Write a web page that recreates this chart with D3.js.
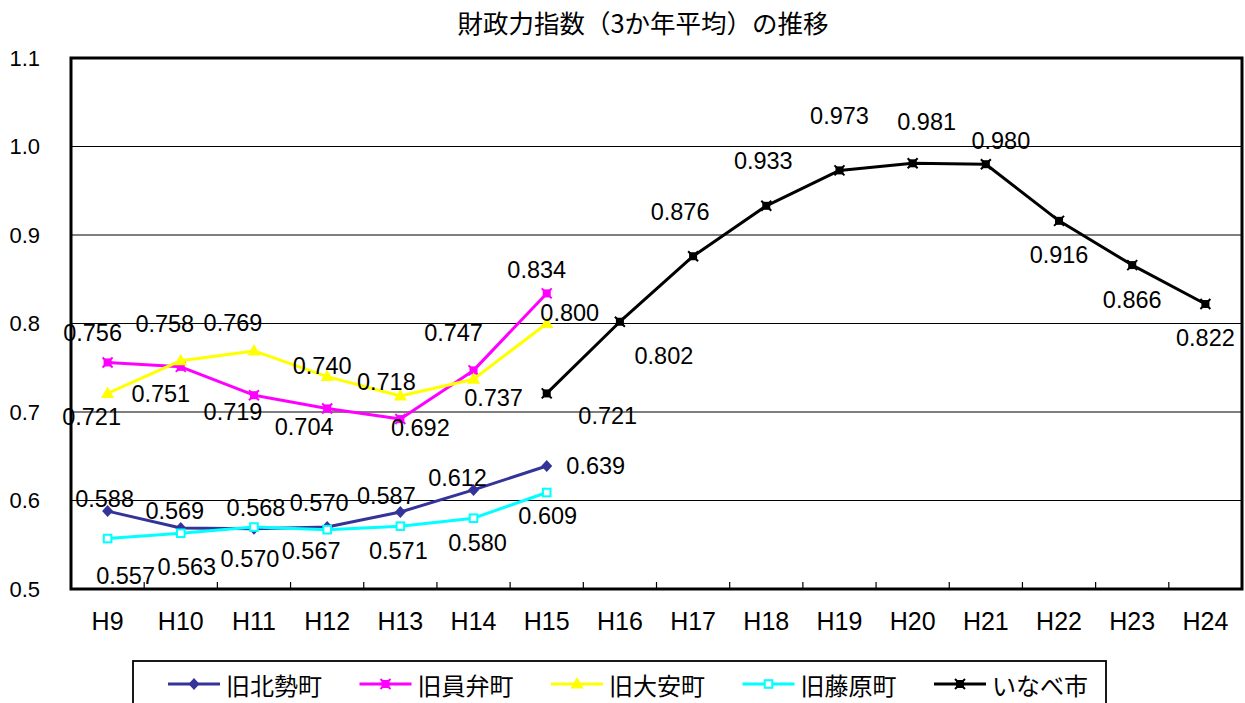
<!DOCTYPE html>
<html>
<head>
<meta charset="utf-8">
<script src="https://cdn.jsdelivr.net/npm/d3@7"></script>
<style>
  body { margin: 0; background: #fff; }
  svg text { fill: #000; }
</style>
</head>
<body>
<svg id="chart" width="1245" height="703"></svg>
<script>
// ---- data ----
const categories = ["H9","H10","H11","H12","H13","H14","H15","H16","H17","H18","H19","H20","H21","H22","H23","H24"];
const yTicks = [0.5, 0.6, 0.7, 0.8, 0.9, 1.0, 1.1];
const seriesNames = ["旧北勢町", "旧員弁町", "旧大安町", "旧藤原町", "いなべ市"];

const hokusei  = [0.588, 0.569, 0.568, 0.570, 0.587, 0.612, 0.639, null, null, null, null, null, null, null, null, null];
const inabeCho = [0.756, 0.751, 0.719, 0.704, 0.692, 0.747, 0.834, null, null, null, null, null, null, null, null, null];
const daian    = [0.721, 0.758, 0.769, 0.740, 0.718, 0.737, 0.800, null, null, null, null, null, null, null, null, null];
const fujiwara = [0.557, 0.563, 0.570, 0.567, 0.571, 0.580, 0.609, null, null, null, null, null, null, null, null, null];
const inabeShi = [null, null, null, null, null, null, 0.721, 0.802, 0.876, 0.933, 0.973, 0.981, 0.980, 0.916, 0.866, 0.822];

// label nudges (px) from each point, in category order of the defined values
const nudgeHokusei  = [[-3,-12],[-6,-17],[2,-21],[-8,-24],[-14,-16],[-16,-12],[49,0]];
const nudgeInabeCho = [[-15,-29],[-20,27],[-21,17],[-23,19],[20,9],[-20,-37],[-10,-23]];
const nudgeDaian    = [[-16,24],[-16,-37],[-21,-28],[-5,-11],[-14,-14],[20,19],[23,-11]];
const nudgeFujiwara = [[18,37],[6,34],[-4,32],[-16,21],[-2,25],[4,25],[1,23]];
const nudgeInabeShi = [[61,23],[44,34],[-13,-44],[-3,-45],[0,-54],[14,-41],[15,-23],[0,34],[0,35],[0,34]];

const seriesValues = [hokusei, inabeCho, daian, fujiwara, inabeShi];
const seriesNudges = [nudgeHokusei, nudgeInabeCho, nudgeDaian, nudgeFujiwara, nudgeInabeShi];
const seriesColors = ["#333399", "#ff00ff", "#ffff00", "#00ffff", "#000000"];
const seriesMarkers = ["diamond", "star", "triangle", "square", "star"];

// ---- layout ----
const svg = d3.select("#chart");
const plot = { left: 71, right: 1242, top: 58, bottom: 589 };
const numFont = "'Liberation Sans', Arial, sans-serif";
const jpFont = "'Noto Sans CJK JP', 'Noto Sans', sans-serif";

const x = d3.scaleBand().domain(categories).range([plot.left, plot.right]).paddingInner(0).paddingOuter(0);
const y = d3.scaleLinear().domain([0.5, 1.1]).range([plot.bottom, plot.top]);
const cx = c => x(c) + x.bandwidth() / 2;

svg.append("rect").attr("width", 1245).attr("height", 703).attr("fill", "#fff");

// title
svg.append("text")
  .attr("x", 643).attr("y", 21)
  .attr("text-anchor", "middle").attr("dominant-baseline", "central")
  .style("font-family", jpFont).style("font-size", "25.5px")
  .text("財政力指数（3か年平均）の推移");

// horizontal gridlines
svg.append("g").selectAll("line")
  .data(yTicks.filter(t => t > 0.5 && t < 1.1))
  .join("line")
  .attr("x1", plot.left).attr("x2", plot.right)
  .attr("y1", d => y(d)).attr("y2", d => y(d))
  .attr("stroke", "#000").attr("stroke-width", 1.2);

// y axis labels
const yAxis = svg.append("g")
  .attr("transform", `translate(${plot.left},0)`)
  .call(d3.axisLeft(y).tickValues(yTicks).tickFormat(d3.format(".1f")).tickSize(0).tickPadding(31));
yAxis.select(".domain").remove();
yAxis.selectAll("text").style("font-family", numFont).style("font-size", "22px").attr("fill", "#000");

// x axis labels
const xAxis = svg.append("g")
  .attr("transform", `translate(0,${plot.bottom})`)
  .call(d3.axisBottom(x).tickSize(0).tickPadding(23));
xAxis.select(".domain").remove();
xAxis.selectAll("text").style("font-family", numFont).style("font-size", "25px").attr("fill", "#000");

// category boundary ticks (inside)
svg.append("g").selectAll("line")
  .data(categories.slice(1))
  .join("line")
  .attr("x1", d => x(d)).attr("x2", d => x(d))
  .attr("y1", plot.bottom).attr("y2", plot.bottom - 7)
  .attr("stroke", "#000").attr("stroke-width", 1.2);

// plot frame
svg.append("rect")
  .attr("x", plot.left).attr("y", plot.top)
  .attr("width", plot.right - plot.left).attr("height", plot.bottom - plot.top)
  .attr("fill", "none").attr("stroke", "#000").attr("stroke-width", 3);

// marker drawing
function drawMarker(g, type, color) {
  if (type === "diamond") {
    g.append("path").attr("d", "M0,-6L5.5,0L0,6L-5.5,0Z").attr("fill", color);
  } else if (type === "triangle") {
    g.append("path").attr("d", "M0,-7L6.5,4.5L-6.5,4.5Z").attr("fill", color);
  } else if (type === "square") {
    g.append("rect").attr("x", -3.8).attr("y", -3.8).attr("width", 7.6).attr("height", 7.6)
      .attr("fill", "#fff").attr("stroke", color).attr("stroke-width", 2);
  } else if (type === "star") {
    g.append("rect").attr("x", -4).attr("y", -4).attr("width", 8).attr("height", 8).attr("fill", color);
    g.append("path").attr("d", "M-5,-5L5,5M5,-5L-5,5")
      .attr("stroke", color).attr("stroke-width", 2);
  }
}

const line = d3.line()
  .defined(d => d.v !== null)
  .x(d => cx(d.c))
  .y(d => y(d.v));

const seriesData = seriesValues.map(vals => categories.map((c, i) => ({ c, v: vals[i] })));

// lines and markers
seriesData.forEach((pts, si) => {
  const g = svg.append("g");
  g.append("path")
    .datum(pts)
    .attr("d", line)
    .attr("fill", "none")
    .attr("stroke", seriesColors[si])
    .attr("stroke-width", 3)
    .attr("stroke-linejoin", "round");
  pts.filter(d => d.v !== null).forEach(d => {
    const m = g.append("g").attr("transform", `translate(${cx(d.c)},${y(d.v)})`);
    drawMarker(m, seriesMarkers[si], seriesColors[si]);
  });
});

// data labels
seriesData.forEach((pts, si) => {
  const defined = pts.filter(d => d.v !== null);
  svg.append("g").selectAll("text")
    .data(defined)
    .join("text")
    .attr("x", (d, i) => cx(d.c) + seriesNudges[si][i][0])
    .attr("y", (d, i) => y(d.v) + seriesNudges[si][i][1])
    .attr("text-anchor", "middle")
    .attr("dominant-baseline", "central")
    .style("font-family", numFont)
    .style("font-size", "23.5px")
    .text(d => d3.format(".3f")(d.v));
});

// legend
const legend = svg.append("g");
legend.append("rect")
  .attr("x", 133).attr("y", 661).attr("width", 973).attr("height", 60)
  .attr("fill", "#fff").attr("stroke", "#000").attr("stroke-width", 1.8);
const legendX = d3.scaleLinear().domain([0, seriesNames.length]).range([168, 168 + 191.5 * seriesNames.length]);
seriesNames.forEach((name, si) => {
  const lx = legendX(si);
  const ly = 684;
  const item = legend.append("g");
  item.append("line")
    .attr("x1", lx).attr("x2", lx + 52).attr("y1", ly).attr("y2", ly)
    .attr("stroke", seriesColors[si]).attr("stroke-width", 3);
  const m = item.append("g").attr("transform", `translate(${lx + 26},${ly})`);
  drawMarker(m, seriesMarkers[si], seriesColors[si]);
  item.append("text")
    .attr("x", lx + 58).attr("y", ly)
    .attr("dominant-baseline", "central")
    .style("font-family", jpFont).style("font-size", "24px")
    .text(name);
});
</script>
</body>
</html>
